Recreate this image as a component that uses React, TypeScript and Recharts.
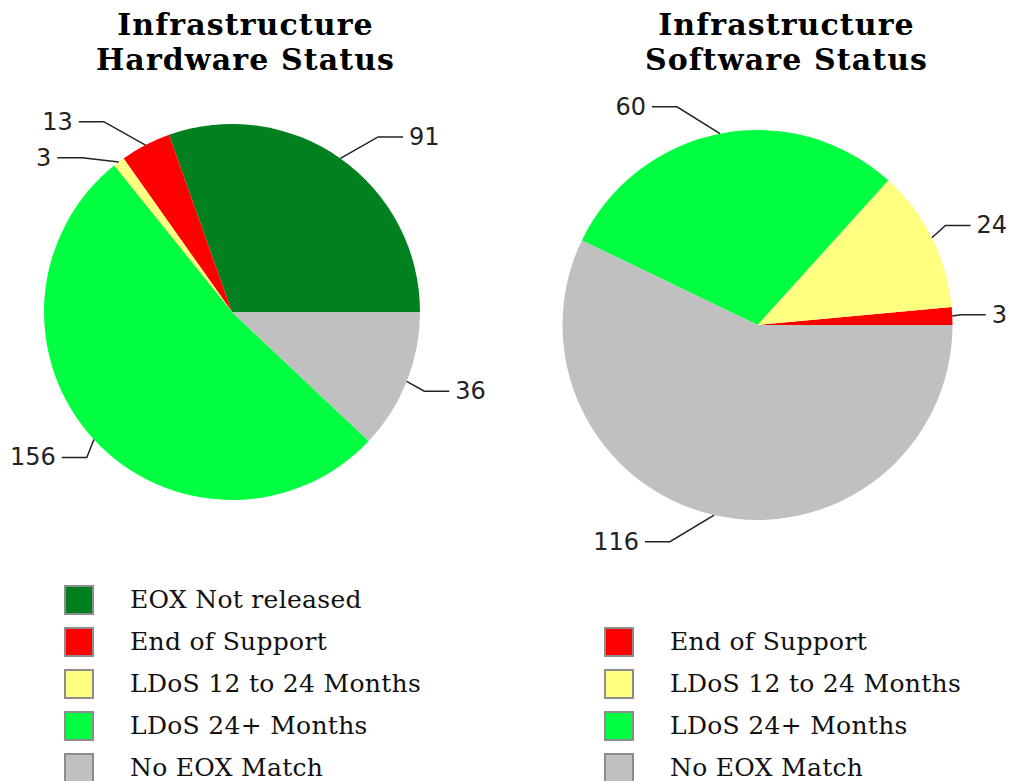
import React from 'react';
import { PieChart, Pie, Cell, Legend } from 'recharts';

// ---- data ----
const hardwareCategories = ['EOX Not released', 'End of Support', 'LDoS 12 to 24 Months', 'LDoS 24+ Months', 'No EOX Match'];
const hardwareValues = [91, 13, 3, 156, 36];
const softwareCategories = ['End of Support', 'LDoS 12 to 24 Months', 'LDoS 24+ Months', 'No EOX Match'];
const softwareValues = [3, 24, 60, 116];
const hardwareTitle = ['Infrastructure', 'Hardware Status'];
const softwareTitle = ['Infrastructure', 'Software Status'];

const COLORS: Record<string, string> = {
  'EOX Not released': '#00801f',
  'End of Support': '#ff0000',
  'LDoS 12 to 24 Months': '#ffff80',
  'LDoS 24+ Months': '#00ff40',
  'No EOX Match': '#c0c0c0',
};

const W = 1011;
const H = 781;
const LABEL_FONT = 24;
const SEG = 25;
const GAP = 6;
const MIN_GAP = 36;

const hardwareData = hardwareCategories.map((name, i) => ({ name, value: hardwareValues[i] }));
const softwareData = softwareCategories.map((name, i) => ({ name, value: softwareValues[i] }));

function layoutLabels(values: number[], cx: number, cy: number, R: number) {
  const total = values.reduce((a, b) => a + b, 0);
  let acc = 0;
  const items = values.map((v, i) => {
    const a0 = (acc / total) * 360;
    acc += v;
    const a1 = (acc / total) * 360;
    const m = (((a0 + a1) / 2) * Math.PI) / 180;
    const c = Math.cos(m);
    const s = Math.sin(m);
    const side = c >= 0 ? 1 : -1;
    const text = String(v);
    const tw = text.length * 0.636 * LABEL_FONT;
    let ex = cx + side * R * 1.067 * Math.pow(Math.abs(c), 0.576);
    if (side > 0) ex = Math.min(ex, W - 4 - tw - GAP - SEG);
    else ex = Math.max(ex, 10 + tw + GAP + SEG);
    const ey = cy - 1.14 * R * s;
    return { i, side, px: cx + R * c, py: cy - R * s, ex, ey, text };
  });
  [1, -1].forEach((sd) => {
    const list = items.filter((it) => it.side === sd).sort((a, b) => a.ey - b.ey);
    for (let k = 1; k < list.length; k++) {
      if (list[k].ey < list[k - 1].ey + MIN_GAP) list[k].ey = list[k - 1].ey + MIN_GAP;
    }
  });
  return items;
}

function makeLabel(values: number[]) {
  return (props: any) => {
    const { cx, cy, outerRadius, index } = props;
    const items = layoutLabels(values, cx, cy, outerRadius);
    const it = items[index];
    const endX = it.ex + it.side * SEG;
    return (
      <g key={`lbl-${index}`}>
        <polyline
          points={`${it.px},${it.py} ${it.ex},${it.ey} ${endX},${it.ey}`}
          fill="none"
          stroke="#222"
          strokeWidth={1.5}
        />
        <text
          x={endX + it.side * GAP}
          y={it.ey}
          textAnchor={it.side > 0 ? 'start' : 'end'}
          dominantBaseline="central"
          fontFamily="'DejaVu Sans', sans-serif"
          fontSize={LABEL_FONT}
          fill="#222"
        >
          {it.text}
        </text>
      </g>
    );
  };
}

const legendFont = "'DejaVu Serif', serif";

function LegendColumn({ items, left, top }: { items: string[]; left: number; top: number }) {
  return (
    <div style={{ position: 'absolute', left, top }}>
      {items.map((name) => (
        <div key={name} style={{ display: 'flex', alignItems: 'center', height: 30, marginBottom: 12 }}>
          <div
            style={{
              width: 30,
              height: 30,
              boxSizing: 'border-box',
              border: '2px solid #8c8c8c',
              background: COLORS[name],
            }}
          />
          <span
            style={{
              marginLeft: 36,
              fontFamily: legendFont,
              fontSize: 25,
              lineHeight: '30px',
              letterSpacing: '0.3px',
              color: '#111',
              whiteSpace: 'nowrap',
            }}
          >
            {name}
          </span>
        </div>
      ))}
    </div>
  );
}

function LegendBlock() {
  return (
    <div style={{ position: 'relative', width: W, height: 0 }}>
      <LegendColumn items={hardwareCategories} left={64} top={585} />
      <LegendColumn items={softwareCategories} left={604} top={627} />
    </div>
  );
}

function Title({ lines, center }: { lines: string[]; center: number }) {
  return (
    <div
      style={{
        position: 'absolute',
        left: center - 250,
        top: 7,
        width: 500,
        textAlign: 'center',
        fontFamily: "'DejaVu Serif', serif",
        fontWeight: 'bold',
        fontSize: 30,
        lineHeight: '35px',
        letterSpacing: '1.1px',
        color: '#000',
      }}
    >
      {lines.map((l) => (
        <div key={l}>{l}</div>
      ))}
    </div>
  );
}

export default function App() {
  return (
    <div style={{ position: 'absolute', left: 0, top: 0, width: W, height: H, background: '#fff' }}>
      <PieChart width={W} height={H} margin={{ top: 0, right: 0, bottom: 0, left: 0 }}>
        <Pie
          data={hardwareData}
          dataKey="value"
          nameKey="name"
          cx={232}
          cy={312}
          outerRadius={188}
          startAngle={0}
          endAngle={360}
          stroke="none"
          isAnimationActive={false}
          labelLine={false}
          label={makeLabel(hardwareValues)}
        >
          {hardwareData.map((d) => (
            <Cell key={d.name} fill={COLORS[d.name]} />
          ))}
        </Pie>
        <Pie
          data={softwareData}
          dataKey="value"
          nameKey="name"
          cx={757.5}
          cy={325}
          outerRadius={195}
          startAngle={0}
          endAngle={360}
          stroke="none"
          isAnimationActive={false}
          labelLine={false}
          label={makeLabel(softwareValues)}
        >
          {softwareData.map((d) => (
            <Cell key={d.name} fill={COLORS[d.name]} />
          ))}
        </Pie>
        <Legend
          layout="vertical"
          align="center"
          verticalAlign="middle"
          wrapperStyle={{ left: 0, top: 0, width: W, height: 0 }}
          content={() => <LegendBlock />}
        />
      </PieChart>
      <Title lines={hardwareTitle} center={245.5} />
      <Title lines={softwareTitle} center={786.5} />
    </div>
  );
}
